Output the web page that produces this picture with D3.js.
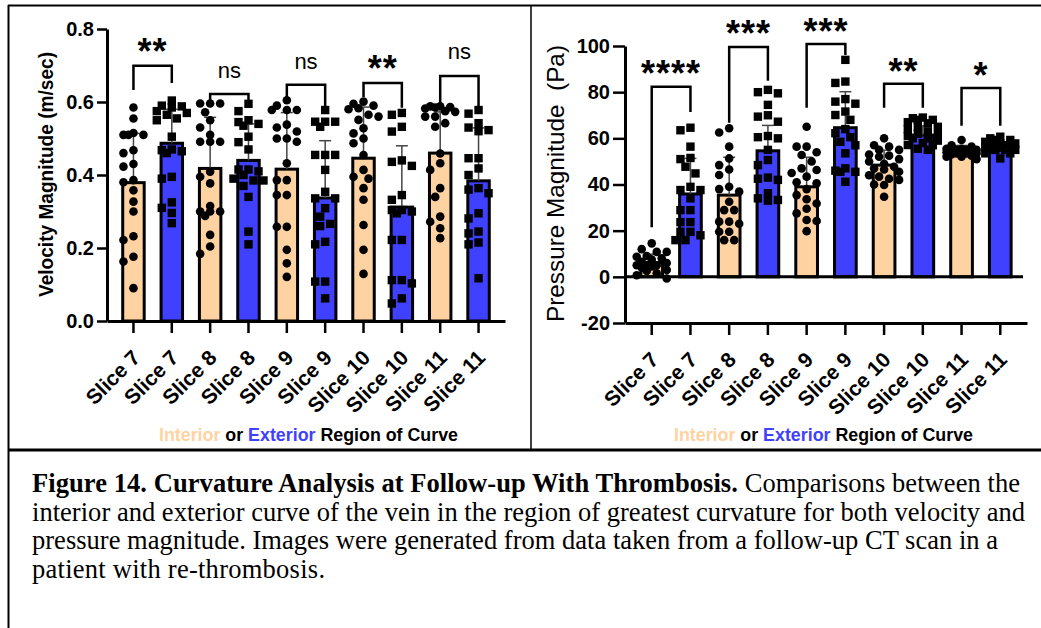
<!DOCTYPE html>
<html>
<head>
<meta charset="utf-8">
<script src="https://cdn.jsdelivr.net/npm/d3@7"></script>
<style>
body { margin: 0; background: #fff; }
svg { display: block; }
</style>
</head>
<body>
<div id="container"></div>
<script>
/* DATA */
const sliceLabels = ["Slice 7", "Slice 7", "Slice 8", "Slice 8", "Slice 9", "Slice 9",
  "Slice 10", "Slice 10", "Slice 11", "Slice 11"];

// velocity (m/sec), interior / exterior alternating
const velocityMean = [0.379, 0.487, 0.418, 0.440, 0.416, 0.337, 0.446, 0.312, 0.460, 0.384];
const velocitySD = [0.135, 0.093, 0.140, 0.100, 0.155, 0.157, 0.140, 0.168, 0.113, 0.145];
const velocityPoints = [
  [0.585, 0.555, 0.51, 0.51, 0.51, 0.515, 0.468, 0.46, 0.43, 0.423, 0.386, 0.38, 0.358, 0.327, 0.30, 0.232, 0.222, 0.176, 0.163, 0.09],
  [0.604, 0.59, 0.588, 0.585, 0.575, 0.57, 0.565, 0.555, 0.55, 0.505, 0.47, 0.468, 0.465, 0.46, 0.395, 0.39, 0.325, 0.31, 0.296, 0.268],
  [0.596, 0.596, 0.596, 0.572, 0.55, 0.53, 0.51, 0.491, 0.491, 0.491, 0.409, 0.395, 0.377, 0.315, 0.30, 0.30, 0.30, 0.288, 0.236, 0.204, 0.184],
  [0.595, 0.575, 0.55, 0.545, 0.54, 0.535, 0.505, 0.49, 0.47, 0.415, 0.415, 0.41, 0.40, 0.39, 0.385, 0.385, 0.37, 0.34, 0.245, 0.21],
  [0.605, 0.59, 0.578, 0.578, 0.578, 0.538, 0.53, 0.519, 0.50, 0.50, 0.491, 0.432, 0.386, 0.386, 0.345, 0.345, 0.258, 0.258, 0.195, 0.158, 0.121],
  [0.578, 0.546, 0.546, 0.546, 0.532, 0.455, 0.455, 0.455, 0.414, 0.354, 0.336, 0.336, 0.309, 0.286, 0.266, 0.26, 0.217, 0.21, 0.108, 0.108, 0.062],
  [0.601, 0.595, 0.59, 0.583, 0.58, 0.565, 0.56, 0.551, 0.528, 0.514, 0.50, 0.487, 0.455, 0.414, 0.395, 0.39, 0.364, 0.332, 0.263, 0.195, 0.129],
  [0.57, 0.565, 0.532, 0.519, 0.44, 0.436, 0.425, 0.345, 0.332, 0.304, 0.304, 0.30, 0.295, 0.222, 0.222, 0.112, 0.112, 0.103, 0.062, 0.048],
  [0.588, 0.588, 0.586, 0.585, 0.582, 0.575, 0.573, 0.56, 0.56, 0.542, 0.532, 0.459, 0.432, 0.414, 0.364, 0.34, 0.286, 0.272, 0.254, 0.227],
  [0.578, 0.568, 0.542, 0.53, 0.523, 0.52, 0.446, 0.446, 0.418, 0.40, 0.364, 0.36, 0.35, 0.295, 0.281, 0.245, 0.24, 0.215, 0.21, 0.117]
];
const velocityTicks = [0, 0.2, 0.4, 0.6, 0.8];
const velocitySig = ["**", "ns", "ns", "**", "ns"];
const velocitySigTop = [0.699, 0.622, 0.647, 0.652, 0.671];
const velocitySigLeft = [0.633, 0.605, 0.614, 0.614, 0.597];
const velocitySigRight = [0.652, 0.605, 0.586, 0.584, 0.586];
const velocitySigLabel = [0.762, 0.682, 0.707, 0.715, 0.734];

// pressure (Pa)
const pressureMean = [6.2, 35.9, 35.4, 54.6, 39.0, 64.6, 48.4, 61.4, 54.9, 56.4];
const pressureSD = [3.6, 15.4, 16.4, 11.0, 12.8, 15.6, 6.5, 4.0, 2.0, 2.0];
const pressurePoints = [
  [14.5, 12, 10.8, 10.8, 9, 8.7, 8, 7.5, 6.5, 6, 5, 5, 5, 4.5, 4, 3, 2.5, 1.5, 0.7, -0.7],
  [64.6, 63.5, 56.4, 51.5, 51, 47.7, 44.8, 39, 37.6, 37.6, 34, 28.9, 28.9, 23.7, 23.7, 19.5, 19.5, 18, 15.9, 15.9],
  [64.4, 62.5, 56.4, 51.3, 48.4, 46.5, 44.1, 39, 38, 36.9, 32.5, 28.9, 28.9, 23.9, 23.9, 23, 19.5, 19.5, 15.9, 15.9],
  [81, 80, 79.5, 74.5, 70, 69.4, 67.2, 61, 60.5, 60, 55, 50.6, 48.4, 43, 42.5, 42, 36.2, 34, 33.3, 33],
  [65, 56.4, 56.4, 54, 52.8, 50, 47, 46.3, 45, 43.4, 41, 40.5, 38, 35.4, 33.6, 31.8, 29.5, 27.5, 24.6, 24.2, 19.8],
  [94, 84.6, 84, 77, 75.9, 75, 71.6, 70.1, 68, 64, 62.2, 60.5, 58.5, 57, 53.5, 47, 46, 45.5, 45.5, 41.2],
  [60, 57, 56.4, 55, 55, 53, 52.5, 52, 51, 50, 49, 47.7, 47, 46.5, 45.5, 44, 43.4, 42.5, 42, 40, 39.8, 34.7],
  [69, 68.7, 68, 68, 67, 66.5, 65, 65, 64, 63, 62, 61.4, 61, 60, 60, 59, 58, 57.1, 57, 55.5, 55],
  [59.3, 57, 56.4, 55.5, 55.5, 55, 55, 55, 54.5, 54.5, 54, 54, 53.5, 53.5, 53.5, 53, 52.5, 52, 52, 51],
  [60.7, 60, 59.3, 59.3, 58.5, 57.8, 57.8, 57.8, 57, 56.4, 56.4, 56.4, 56, 55.5, 55, 55, 55, 53.5, 53.5, 51.3]
];
const pressureTicks = [-20, 0, 20, 40, 60, 80, 100];
const pressureSig = ["****", "***", "***", "**", "*"];
const pressureSigTop = [82.3, 99.6, 100.9, 83.6, 81.8];
const pressureSigLeft = [21.5, 66.7, 73.2, 73.2, 65.4];
const pressureSigRight = [71.4, 84.9, 96.1, 73.2, 65.4];
const pressureSigLabel = [91.8, 109.1, 110.0, 92.6, 90.8];

const captionLines = [
  "interior and exterior curve of the vein in the region of greatest curvature for both velocity and",
  "pressure magnitude. Images were generated from data taken from a follow-up CT scan in a",
  "patient with re-thrombosis."
];

/* CONSTANTS */
const width = 1041, height = 628;
const peach = "#FFD2A2", blue = "#4040FF";
const sans = "Liberation Sans, Arial, sans-serif";
const serif = "Liberation Serif, Times New Roman, serif";

const svg = d3.select("#container").append("svg")
  .attr("width", width).attr("height", height)
  .attr("font-family", sans);

// frame
const frame = svg.append("g").attr("stroke", "#000").attr("fill", "none");
frame.append("line").attr("x1", 8).attr("x2", width).attr("y1", 5.5).attr("y2", 5.5).attr("stroke-width", 2);
frame.append("line").attr("x1", 8.5).attr("x2", 8.5).attr("y1", 5).attr("y2", height).attr("stroke-width", 2);
frame.append("line").attr("x1", 531).attr("x2", 531).attr("y1", 5).attr("y2", 450).attr("stroke-width", 1.5);
frame.append("line").attr("x1", 8).attr("x2", width).attr("y1", 450).attr("y2", 450).attr("stroke-width", 3);

/* swarm layout: points spread sideways when they would overlap */
function swarm(vals, y, cx) {
  const placed = [];
  const offsets = [0, -5, 5, -10, 10, -15, 15];
  vals.slice().sort((a, b) => b - a).forEach(v => {
    const py = y(v);
    let best = null, bestD = -1;
    for (const o of offsets) {
      const px = cx + o;
      const d = placed.length ? d3.min(placed, q => Math.hypot(q.x - px, q.y - py)) : Infinity;
      if (d >= 9) { best = px; break; }
      if (d > bestD) { bestD = d; best = px; }
    }
    placed.push({ x: best, y: py });
  });
  return placed;
}

function drawPanel(p) {
  const g = svg.append("g");
  const x = d3.scaleBand().domain(d3.range(sliceLabels.length))
    .range([p.left, p.right]).paddingInner(0.44).paddingOuter(0.41);
  const y = d3.scaleLinear().domain(p.domain).range([p.bottom, p.top]);
  const cx = i => x(i) + x.bandwidth() / 2;

  // bars
  g.selectAll(".bar").data(p.means).join("rect")
    .attr("class", "bar")
    .attr("x", (d, i) => x(i))
    .attr("width", x.bandwidth())
    .attr("y", d => y(Math.max(0, d)))
    .attr("height", d => Math.abs(y(d) - y(0)))
    .attr("fill", (d, i) => i % 2 ? blue : peach)
    .attr("stroke", "#000").attr("stroke-width", 3);

  // error bars (mean + SD)
  const eb = g.append("g").attr("stroke", "#444").attr("stroke-width", 1.5);
  eb.selectAll(".stem").data(p.means).join("line")
    .attr("x1", (d, i) => cx(i)).attr("x2", (d, i) => cx(i))
    .attr("y1", d => y(d)).attr("y2", (d, i) => y(d + p.sds[i]));
  eb.selectAll(".cap").data(p.means).join("line")
    .attr("x1", (d, i) => cx(i) - 6).attr("x2", (d, i) => cx(i) + 6)
    .attr("y1", (d, i) => y(d + p.sds[i])).attr("y2", (d, i) => y(d + p.sds[i]));

  // points
  p.points.forEach((vals, i) => {
    const pts = swarm(vals, y, cx(i));
    if (i % 2 === 0) {
      g.append("g").selectAll("circle").data(pts).join("circle")
        .attr("cx", d => d.x).attr("cy", d => d.y).attr("r", 4.3).attr("fill", "#000");
    } else {
      g.append("g").selectAll("rect").data(pts).join("rect")
        .attr("x", d => d.x - 4.2).attr("y", d => d.y - 4.2)
        .attr("width", 8.4).attr("height", 8.4).attr("fill", "#000");
    }
  });

  // zero line (pressure panel)
  if (p.domain[0] < 0) {
    g.append("line").attr("x1", p.left).attr("x2", p.right - 4)
      .attr("y1", y(0)).attr("y2", y(0))
      .attr("stroke", "#000").attr("stroke-width", 3);
  }

  // y axis
  const yAxis = g.append("g").attr("transform", `translate(${p.left},0)`)
    .call(d3.axisLeft(y).tickValues(p.ticks).tickSize(p.yTick).tickSizeOuter(0)
      .tickPadding(3).tickFormat(p.fmt));
  yAxis.select(".domain").attr("stroke-width", 3);
  yAxis.selectAll(".tick line").attr("stroke-width", 2.5);
  yAxis.selectAll(".tick text").attr("font-size", 20).attr("font-weight", "bold")
    .attr("fill", "#000").attr("font-family", sans);

  // x axis
  const xAxis = g.append("g").attr("transform", `translate(0,${p.bottom})`)
    .call(d3.axisBottom(x).tickSize(12).tickSizeOuter(0).tickFormat(i => sliceLabels[i]));
  xAxis.select(".domain").attr("stroke-width", 3);
  xAxis.selectAll(".tick line").attr("stroke-width", 2.5);
  xAxis.selectAll(".tick text")
    .attr("x", 0).attr("y", 0).attr("dy", 0)
    .attr("text-anchor", "end")
    .attr("transform", "translate(8,38) rotate(-45)")
    .attr("font-size", 21).attr("font-weight", "bold").attr("fill", "#000")
    .attr("font-family", sans);

  // significance brackets
  const sg = g.append("g");
  p.sig.forEach((s, k) => {
    const a = cx(2 * k), b = cx(2 * k + 1);
    sg.append("path")
      .attr("d", `M${a},${y(p.sigLeft[k])}V${y(p.sigTop[k])}H${b}V${y(p.sigRight[k])}`)
      .attr("fill", "none").attr("stroke", "#000").attr("stroke-width", 2.5);
    const isNs = s === "ns";
    const fs = isNs ? 22 : 36;
    sg.append("text")
      .attr("x", (a + b) / 2)
      .attr("y", y(p.sigLabel[k]) + (isNs ? 0.26 : 0.58) * fs)
      .attr("text-anchor", "middle")
      .attr("font-size", fs)
      .attr("font-weight", isNs ? "normal" : "bold")
      .attr("letter-spacing", isNs ? 0 : 1)
      .text(s);
  });

  // y label
  svg.append("text")
    .attr("transform", `translate(${p.labelX},${p.labelY}) rotate(-90)`)
    .attr("text-anchor", "middle")
    .attr("font-size", p.labelSize)
    .attr("font-weight", p.labelWeight)
    .attr("textLength", p.labelLen).attr("lengthAdjust", "spacingAndGlyphs")
    .style("white-space", "pre")
    .text(p.label);

  // legend line
  const lg = svg.append("text")
    .attr("x", p.legendX).attr("y", 441)
    .attr("font-size", 18).attr("font-weight", "bold")
    .attr("textLength", 299).attr("lengthAdjust", "spacingAndGlyphs");
  lg.append("tspan").attr("fill", peach).text("Interior");
  lg.append("tspan").attr("fill", "#000").text(" or ");
  lg.append("tspan").attr("fill", blue).text("Exterior");
  lg.append("tspan").attr("fill", "#000").text(" Region of Curve");
}

drawPanel({
  left: 107, right: 505, top: 29, bottom: 321,
  domain: [0, 0.8], ticks: velocityTicks, fmt: d3.format(".1f"), yTick: 10,
  means: velocityMean, sds: velocitySD, points: velocityPoints,
  sig: velocitySig, sigTop: velocitySigTop, sigLeft: velocitySigLeft,
  sigRight: velocitySigRight, sigLabel: velocitySigLabel,
  label: "Velocity Magnitude (m/sec)", labelX: 52.5, labelY: 174.5,
  labelSize: 20, labelWeight: "bold", labelLen: 245,
  legendX: 159
});

drawPanel({
  left: 625, right: 1027, top: 46, bottom: 323,
  domain: [-20, 100], ticks: pressureTicks, fmt: d => String(d), yTick: 12,
  means: pressureMean, sds: pressureSD, points: pressurePoints,
  sig: pressureSig, sigTop: pressureSigTop, sigLeft: pressureSigLeft,
  sigRight: pressureSigRight, sigLabel: pressureSigLabel,
  label: "Pressure Magnitude  (Pa)", labelX: 563.5, labelY: 183.5,
  labelSize: 24, labelWeight: "normal", labelLen: 277,
  legendX: 674
});

/* CAPTION */
const cap = svg.append("g")
  .attr("font-family", serif)
  .attr("font-size", 26.5).attr("fill", "#000");
const first = cap.append("text").attr("x", 32).attr("y", 492)
  .attr("textLength", 988).attr("lengthAdjust", "spacing");
first.append("tspan").attr("font-weight", "bold")
  .text("Figure 14. Curvature Analysis at Follow-up With Thrombosis.");
first.append("tspan").text(" Comparisons between the");
const capEnds = [1025, 998, 325];
captionLines.forEach((t, i) => {
  cap.append("text").attr("x", 32).attr("y", 520.6 + i * 28.6)
    .attr("textLength", capEnds[i] - 32).attr("lengthAdjust", "spacing")
    .text(t);
});
</script>
</body>
</html>
